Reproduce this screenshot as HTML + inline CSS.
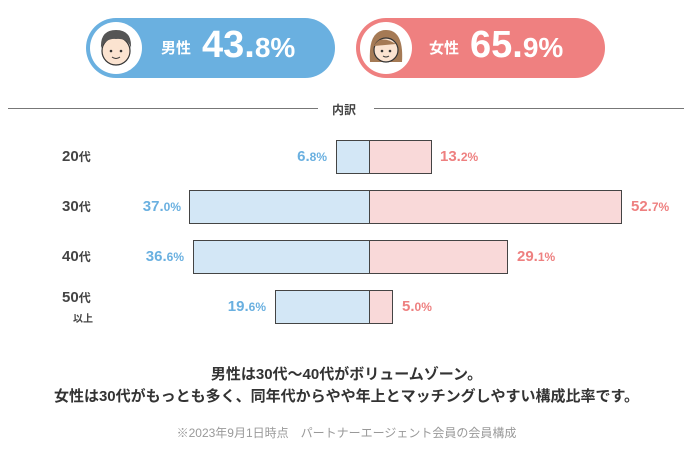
<!DOCTYPE html>
<html><head><meta charset="utf-8"><style>
body{margin:0;width:693px;height:450px;background:#fff;font-family:"Liberation Sans","Noto Sans CJK JP",sans-serif;position:relative;overflow:hidden}
.a{position:absolute}
.pill{position:absolute;top:18px;height:60px;border-radius:30px;width:249px}
.face{position:absolute;left:4px;top:4px;width:52px;height:52px;border-radius:50%;background:#fff}
.lbl{position:absolute;top:19px;font-size:15px;font-weight:bold;color:#fff}
.num{position:absolute;top:6px;font-size:38px;font-weight:bold;color:#fff}
.num small{font-size:28px}
.bar{position:absolute;height:34px;border:1.5px solid #444;box-sizing:border-box}
.L{background:#d3e7f6}.R{background:#f9d9d9}
.age{position:absolute;left:62px;font-size:15px;font-weight:bold;color:#444}
.pl,.pr{position:absolute;font-size:15px;font-weight:bold}
.pl{color:#6ab0e0;text-align:right;width:100px}.pr{color:#ee8080}
.pl small,.pr small{font-size:12px}
</style></head><body>
<div class="pill" style="left:86px;background:#6ab0e0">
 <div class="face"><svg width="52" height="52"><circle cx="26" cy="29" r="14" fill="#fbe3d0" stroke="#333" stroke-width="1.2"/><path d="M11 26 Q10 8 26 8 Q42 8 41 26 Q38 16 26 17 Q16 16 11 26Z" fill="#555"/><circle cx="21" cy="29" r="1.3" fill="#333"/><circle cx="31" cy="29" r="1.3" fill="#333"/><path d="M22 35 Q26 38 30 35" stroke="#333" fill="none"/></svg></div>
 <div class="lbl" style="left:75px">男性</div>
 <div class="num" style="left:116px">43.<small>8%</small></div>
</div>
<div class="pill" style="left:356px;background:#ef8080">
 <div class="face"><svg width="52" height="52"><path d="M10 40 Q8 8 26 8 Q44 8 42 40Z" fill="#a57a55"/><circle cx="26" cy="28" r="12" fill="#fbe3d0" stroke="#333" stroke-width="1.2"/><path d="M14 24 Q20 12 36 22" fill="#a57a55"/><circle cx="22" cy="29" r="1.3" fill="#333"/><circle cx="30" cy="29" r="1.3" fill="#333"/><path d="M23 34 Q26 36 29 34" stroke="#333" fill="none"/></svg></div>
 <div class="lbl" style="left:73px">女性</div>
 <div class="num" style="left:114px">65.<small>9%</small></div>
</div>
<div class="a" style="left:8px;top:108px;width:310px;height:1px;background:#777"></div>
<div class="a" style="left:374px;top:108px;width:310px;height:1px;background:#777"></div>
<div class="a" style="left:332px;top:101px;font-size:12px;font-weight:bold;color:#444">内訳</div>

<div class="age" style="top:148px">20<span style="font-size:12px">代</span></div>
<div class="age" style="top:198px">30<span style="font-size:12px">代</span></div>
<div class="age" style="top:248px">40<span style="font-size:12px">代</span></div>
<div class="age" style="top:289px">50<span style="font-size:12px">代</span></div>
<div class="a" style="left:73px;top:310px;font-size:10px;font-weight:bold;color:#444">以上</div>

<div class="bar L" style="left:336px;top:140px;width:35px"></div>
<div class="bar R" style="left:369px;top:140px;width:63px"></div>
<div class="bar L" style="left:189px;top:190px;width:182px"></div>
<div class="bar R" style="left:369px;top:190px;width:253px"></div>
<div class="bar L" style="left:193px;top:240px;width:178px"></div>
<div class="bar R" style="left:369px;top:240px;width:139px"></div>
<div class="bar L" style="left:275px;top:290px;width:96px"></div>
<div class="bar R" style="left:369px;top:290px;width:24px"></div>

<div class="pl" style="left:227px;top:148px">6.<small>8%</small></div>
<div class="pl" style="left:81px;top:198px">37.<small>0%</small></div>
<div class="pl" style="left:84px;top:248px">36.<small>6%</small></div>
<div class="pl" style="left:166px;top:298px">19.<small>6%</small></div>
<div class="pr" style="left:440px;top:148px">13.<small>2%</small></div>
<div class="pr" style="left:631px;top:198px">52.<small>7%</small></div>
<div class="pr" style="left:517px;top:248px">29.<small>1%</small></div>
<div class="pr" style="left:402px;top:298px">5.<small>0%</small></div>

<div class="a" style="left:0;width:693px;top:364px;text-align:center;font-size:15px;font-weight:bold;color:#333;line-height:22px">男性は30代～40代がボリュームゾーン。<br>女性は30代がもっとも多く、同年代からやや年上とマッチングしやすい構成比率です。</div>
<div class="a" style="left:0;width:693px;top:424px;text-align:center;font-size:12px;color:#999">※2023年9月1日時点　パートナーエージェント会員の会員構成</div>
</body></html>
